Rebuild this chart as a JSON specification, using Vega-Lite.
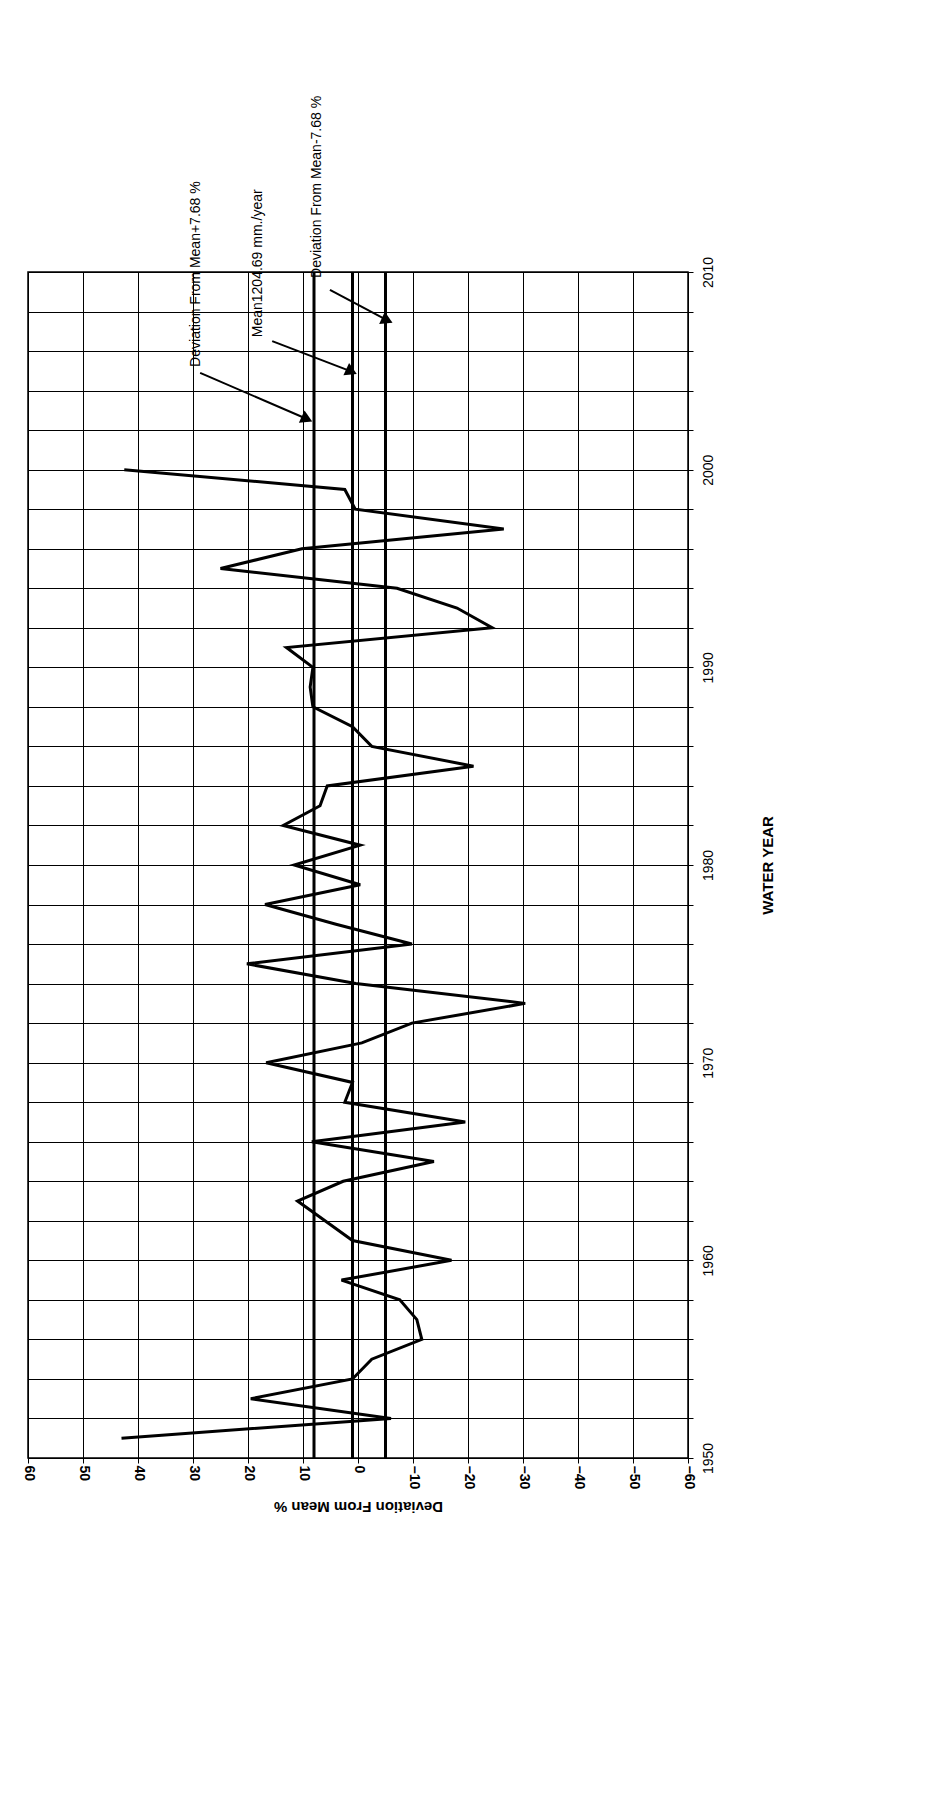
{
  "$schema": "https://vega.github.io/schema/vega-lite/v6.json",
  "width": 660,
  "height": 1186,
  "autosize": "none",
  "padding": {"left": 28, "top": 272, "right": 254, "bottom": 350},
  "background": "white",
  "config": {"font": "Liberation Sans", "view": {"stroke": "black", "strokeWidth": 1.5}},
  "datasets": {
    "series": [
      {"year": 1951, "dev": 43}, {"year": 1952, "dev": -6}, {"year": 1953, "dev": 19.5},
      {"year": 1954, "dev": 1}, {"year": 1955, "dev": -2.5}, {"year": 1956, "dev": -11.6},
      {"year": 1957, "dev": -10.7}, {"year": 1958, "dev": -7.6}, {"year": 1959, "dev": 3},
      {"year": 1960, "dev": -17}, {"year": 1961, "dev": 1}, {"year": 1962, "dev": 6},
      {"year": 1963, "dev": 11}, {"year": 1964, "dev": 2.7}, {"year": 1965, "dev": -13.8},
      {"year": 1966, "dev": 8.4}, {"year": 1967, "dev": -19.5}, {"year": 1968, "dev": 2.4},
      {"year": 1969, "dev": 1}, {"year": 1970, "dev": 16.7}, {"year": 1971, "dev": -0.7},
      {"year": 1972, "dev": -9.8}, {"year": 1973, "dev": -30.4}, {"year": 1974, "dev": 0.4},
      {"year": 1975, "dev": 20.2}, {"year": 1976, "dev": -9.8}, {"year": 1977, "dev": 4},
      {"year": 1978, "dev": 16.9}, {"year": 1979, "dev": -0.4}, {"year": 1980, "dev": 11.6},
      {"year": 1981, "dev": -0.4}, {"year": 1982, "dev": 13.6}, {"year": 1983, "dev": 6.9},
      {"year": 1984, "dev": 5.6}, {"year": 1985, "dev": -21}, {"year": 1986, "dev": -2.5},
      {"year": 1987, "dev": 1}, {"year": 1988, "dev": 8.2}, {"year": 1989, "dev": 8.7},
      {"year": 1990, "dev": 8.2}, {"year": 1991, "dev": 13}, {"year": 1992, "dev": -24.4},
      {"year": 1993, "dev": -18}, {"year": 1994, "dev": -7.1}, {"year": 1995, "dev": 25},
      {"year": 1996, "dev": 10.2}, {"year": 1997, "dev": -26.5}, {"year": 1998, "dev": 0.5},
      {"year": 1999, "dev": 2.4}, {"year": 2000, "dev": 42.5}
    ],
    "refs": [{"dev": 8}, {"dev": 1}, {"dev": -5}],
    "arrows": [
      {"d1": 28.7, "y1": 2004.9, "d2": 9.6, "y2": 2002.6},
      {"d1": 15.6, "y1": 2006.5, "d2": 1.5, "y2": 2005.0},
      {"d1": 5.1, "y1": 2009.1, "d2": -5, "y2": 2007.6}
    ],
    "labels": [
      {"dev": 28.2, "year": 2005.2, "text": "Deviation From Mean+7.68 %"},
      {"dev": 16.9, "year": 2006.7, "text": "Mean1204.69 mm./year"},
      {"dev": 6.2, "year": 2009.7, "text": "Deviation From Mean-7.68 %"}
    ]
  },
  "encoding": {
    "x": {
      "type": "quantitative",
      "scale": {"domain": [60, -60], "reverse": false, "nice": false},
      "axis": {
        "values": [60, 50, 40, 30, 20, 10, 0, -10, -20, -30, -40, -50, -60],
        "title": "Deviation From Mean %", "titleAngle": 180, "titleFontSize": 15,
        "titleFontWeight": "bold", "titlePadding": 25, "titleColor": "black",
        "labelAngle": 90, "labelFontSize": 14, "labelFontWeight": "bold", "labelColor": "black",
        "labelAlign": "left", "labelBaseline": "middle",
        "grid": true, "gridColor": "black", "gridWidth": 1, "gridOpacity": 1,
        "domain": false, "tickColor": "black"
      }
    },
    "y": {
      "type": "quantitative",
      "scale": {"domain": [1950, 2010], "nice": false, "zero": false},
      "axis": {
        "orient": "right",
        "values": [1950,1952,1954,1956,1958,1960,1962,1964,1966,1968,1970,1972,1974,1976,1978,1980,1982,1984,1986,1988,1990,1992,1994,1996,1998,2000,2002,2004,2006,2008,2010],
        "labelExpr": "datum.value % 10 == 0 ? datum.value : ''",
        "title": "WATER YEAR", "titleAngle": 270, "titleFontSize": 15,
        "titleFontWeight": "bold", "titlePadding": 60, "titleColor": "black",
        "labelAngle": 270, "labelFontSize": 14, "labelColor": "black",
        "labelAlign": "center", "labelBaseline": "top", "labelPadding": 8,
        "grid": true, "gridColor": "black", "gridWidth": 1, "gridOpacity": 1,
        "domain": false, "tickColor": "black"
      }
    }
  },
  "layer": [
    {
      "data": {"name": "refs"},
      "mark": {"type": "rule", "color": "black", "strokeWidth": 3},
      "encoding": {"x": {"field": "dev"}, "y": {"datum": 1950}, "y2": {"datum": 2010}}
    },
    {
      "data": {"name": "series"},
      "mark": {"type": "line", "color": "black", "strokeWidth": 3},
      "encoding": {"x": {"field": "dev"}, "y": {"field": "year"}, "order": {"field": "year"}}
    },
    {
      "data": {"name": "arrows"},
      "mark": {"type": "rule", "color": "black", "strokeWidth": 2},
      "encoding": {"x": {"field": "d1"}, "y": {"field": "y1"}, "x2": {"field": "d2"}, "y2": {"field": "y2"}}
    },
    {
      "data": {"name": "arrows"},
      "mark": {"type": "point", "shape": "triangle", "filled": true, "color": "black", "size": 180, "angle": 115, "opacity": 1},
      "encoding": {"x": {"field": "d2"}, "y": {"field": "y2"}}
    },
    {
      "data": {"name": "labels"},
      "mark": {"type": "text", "angle": 270, "align": "left", "baseline": "bottom", "fontSize": 14, "color": "black"},
      "encoding": {"x": {"field": "dev"}, "y": {"field": "year"}, "text": {"field": "text"}}
    }
  ]
}
